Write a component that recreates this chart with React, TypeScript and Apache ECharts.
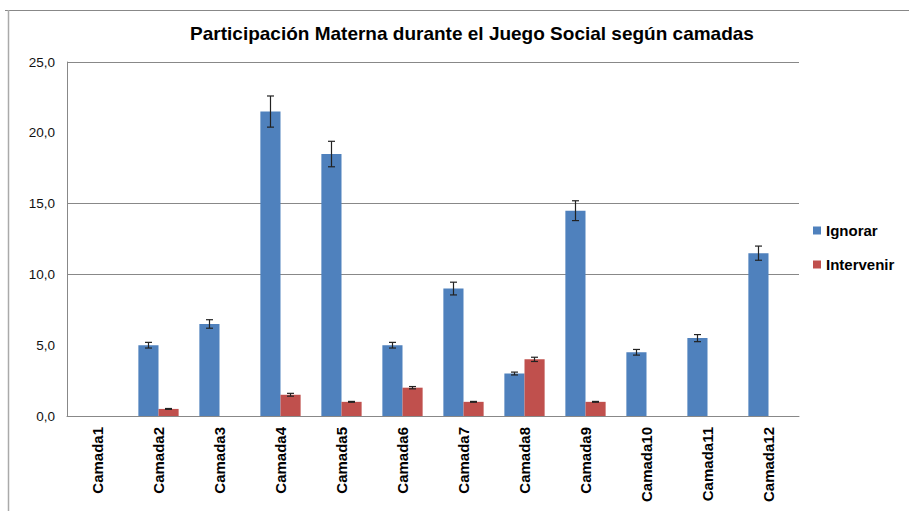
import React, { useEffect, useRef } from "react";
import * as echarts from "echarts";

const categories = [
  "Camada1", "Camada2", "Camada3", "Camada4", "Camada5", "Camada6",
  "Camada7", "Camada8", "Camada9", "Camada10", "Camada11", "Camada12",
];
const ignorar = [0, 5.0, 6.5, 21.5, 18.5, 5.0, 9.0, 3.0, 14.5, 4.5, 5.5, 11.5];
const ignorarErr = [0, 0.2, 0.3, 1.1, 0.9, 0.2, 0.45, 0.1, 0.7, 0.2, 0.25, 0.5];
const intervenir = [0, 0.5, 0, 1.5, 1.0, 2.0, 1.0, 4.0, 1.0, 0, 0, 0];
const intervenirErr = [0, 0.03, 0, 0.1, 0.03, 0.08, 0.03, 0.15, 0.03, 0, 0, 0];
const gridValues = [25, 15, 10];
const yTicks = ["0,0", "5,0", "10,0", "15,0", "20,0", "25,0"];

const FONT = "'Liberation Sans', Arial, sans-serif";
const BLUE = "#4F81BD";
const RED = "#C0504D";

export default function App() {
  const ref = useRef<HTMLDivElement>(null);
  useEffect(() => {
    document.body.style.margin = "0";
    const chart = echarts.init(ref.current!, null, { renderer: "svg" });
    const errData = (vals: number[], errs: number[]) =>
      vals
        .map((v, i) => [i, v - errs[i], v + errs[i], v])
        .filter((d) => d[3] > 0);
    const makeErr = (name: string, data: number[][], side: number) => ({
      type: "custom",
      name,
      z: 5,
      silent: true,
      data,
      encode: { x: 0, y: [1, 2] },
      renderItem: (params: any, api: any) => {
        const i = api.value(0);
        const lo = api.coord([i, api.value(1)]);
        const hi = api.coord([i, api.value(2)]);
        const band = api.size([1, 0])[0];
        const x = lo[0] + side * band * 0.164;
        const cap = 3.5;
        const style = { stroke: "#222", lineWidth: 1.2 };
        return {
          type: "group",
          children: [
            { type: "line", shape: { x1: x, y1: lo[1], x2: x, y2: hi[1] }, style },
            { type: "line", shape: { x1: x - cap, y1: lo[1], x2: x + cap, y2: lo[1] }, style },
            { type: "line", shape: { x1: x - cap, y1: hi[1], x2: x + cap, y2: hi[1] }, style },
          ],
        };
      },
    });
    chart.setOption({
      animation: false,
      backgroundColor: "#fff",
      title: {
        text: "Participación Materna durante el Juego Social según camadas",
        left: 467,
        top: 19,
        textAlign: "center",
        textStyle: { fontFamily: FONT, fontSize: 19, fontWeight: "bold", color: "#000" },
      },
      legend: {
        data: ["Ignorar", "Intervenir"],
        orient: "vertical",
        left: 808,
        top: 218,
        itemWidth: 8,
        itemHeight: 8,
        itemGap: 19,
        icon: "rect",
        textStyle: { fontFamily: FONT, fontSize: 15, fontWeight: "bold", color: "#000" },
      },
      grid: { left: 67, right: 110, top: 62, bottom: 95 },
      xAxis: {
        type: "category",
        data: categories,
        axisLine: { lineStyle: { color: "#888" } },
        axisTick: { show: false },
        axisLabel: {
          rotate: 90,
          margin: 11,
          fontFamily: FONT,
          fontSize: 15,
          fontWeight: "bold",
          color: "#000",
        },
      },
      yAxis: {
        type: "value",
        min: 0,
        max: 25,
        interval: 5,
        axisLine: { show: true, lineStyle: { color: "#888" } },
        axisTick: { show: false },
        splitLine: { show: false },
        axisLabel: {
          margin: 12,
          fontFamily: FONT,
          fontSize: 13.5,
          color: "#111",
          formatter: (v: number) => yTicks[Math.round(v / 5)],
        },
      },
      graphic: [
        { type: "line", shape: { x1: 5, y1: 10.5, x2: 909, y2: 10.5 }, style: { stroke: "#888", lineWidth: 1 } },
        { type: "line", shape: { x1: 8.5, y1: 10, x2: 8.5, y2: 511 }, style: { stroke: "#aaa", lineWidth: 1.5 } },
      ],
      series: [
        {
          name: "Ignorar",
          type: "bar",
          data: ignorar,
          barWidth: "33%",
          barGap: "0%",
          itemStyle: { color: BLUE },
          z: 2,
          markLine: {
            silent: true,
            z: 1,
            symbol: "none",
            label: { show: false },
            lineStyle: { color: "#888", type: "solid", width: 1 },
            data: gridValues.map((v) => ({ yAxis: v })),
          },
        },
        {
          name: "Intervenir",
          type: "bar",
          data: intervenir,
          barWidth: "33%",
          barGap: "0%",
          itemStyle: { color: RED },
          z: 2,
        },
        makeErr("errI", errData(ignorar, ignorarErr), -1),
        makeErr("errV", errData(intervenir, intervenirErr), 1),
      ],
    });
    return () => chart.dispose();
  }, []);
  return (
    <div
      ref={ref}
      style={{ position: "fixed", left: 0, top: 0, width: 909, height: 511 }}
    />
  );
}
